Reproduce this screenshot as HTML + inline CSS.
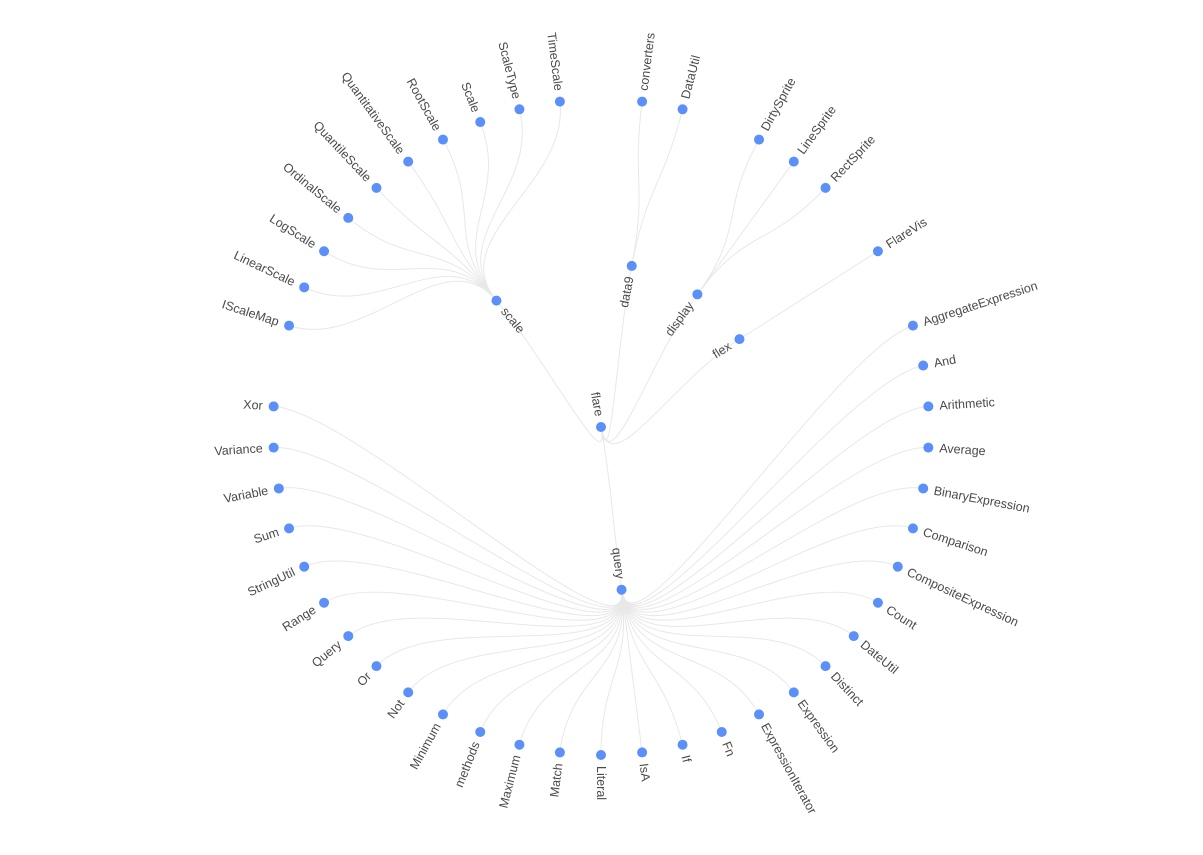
<!DOCTYPE html>
<html><head><meta charset="utf-8"><style>
html,body{margin:0;padding:0;background:#fff;}
svg{display:block;font-family:"Liberation Sans",sans-serif;}
</style></head><body>
<svg id="chart" width="1203" height="855" xmlns="http://www.w3.org/2000/svg">
<g id="edges"></g>
<g id="nodes"></g>
</svg>
<script>
const rootName = "flare";
const groupNames = ["query","scale","data9","display","flex"];
const queryLeaves = ["AggregateExpression","And","Arithmetic","Average","BinaryExpression","Comparison","CompositeExpression","Count","DateUtil","Distinct","Expression","ExpressionIterator","Fn","If","IsA","Literal","Match","Maximum","methods","Minimum","Not","Or","Query","Range","StringUtil","Sum","Variable","Variance","Xor"];
const scaleLeaves = ["IScaleMap","LinearScale","LogScale","OrdinalScale","QuantileScale","QuantitativeScale","RootScale","Scale","ScaleType","TimeScale"];
const data9Leaves = ["converters","DataUtil"];
const displayLeaves = ["DirtySprite","LineSprite","RectSprite"];
const flexLeaves = ["FlareVis"];

const groups=[queryLeaves,scaleLeaves,data9Leaves,displayLeaves,flexLeaves];
const cx=601, cy=427, R1=164, R2=328, startDeg=-18, rootDeg=80;
const NS="http://www.w3.org/2000/svg";
const eG=document.getElementById('edges'), nG=document.getElementById('nodes');
let total=0; groups.forEach(g=>{total+=(g.length-1)+2;});
const step=360/total;
function pt(deg,r){const a=deg*Math.PI/180;return [cx+r*Math.cos(a),cy+r*Math.sin(a)];}
function edge(d1,r1,d2,r2,name){
  const p1=pt(d1,r1),p2=pt(d1,(r1+r2)/2*(r1===0?0.7:1)),p3=pt(d2,(r1+r2)/2),p4=pt(d2,r2);
  const p=document.createElementNS(NS,'path');
  p.setAttribute('d',`M${p1}C${p2} ${p3} ${p4}`);
  p.setAttribute('fill','none');p.setAttribute('stroke','#e8e8e8');p.setAttribute('stroke-width','1');
  
  
  eG.appendChild(p);
}
function node(deg,r,label,leaf,name,rot){
  const [x,y]=pt(deg,r);
  const c=document.createElementNS(NS,'circle');
  c.setAttribute('cx',x);c.setAttribute('cy',y);c.setAttribute('r',5);c.setAttribute('fill','#5b8ff9');
  
  
  nG.appendChild(c);
  let a=rot!==undefined?rot:deg;
  let out=leaf;
  const norm=((a%360)+360)%360;
  if(norm>90&&norm<270){a-=180;out=!out;}
  const t=document.createElementNS(NS,'text');
  t.setAttribute('x',out?11:-11);t.setAttribute('y',0);
  t.setAttribute('text-anchor',out?'start':'end');
  t.setAttribute('dominant-baseline','central');
  t.setAttribute('font-size','12.5');t.setAttribute('fill','#4a4a4a');
  t.setAttribute('transform',`translate(${x},${y}) rotate(${a})`);
  t.textContent=label;
  
  
  nG.appendChild(t);
}
let cur=startDeg;
const gpos=[];
groups.forEach((g,gi)=>{
  const angs=g.map((_,i)=>cur+i*step);
  cur+= (g.length-1)*step+2*step;
  const pd=(angs[0]+angs[angs.length-1])/2;
  gpos.push([pd,angs]);
});
gpos.forEach(([pd,angs],gi)=>{
  edge(rootDeg,0,pd,R1,'edge-root-'+groupNames[gi]);
  angs.forEach((a,i)=>edge(pd,R1,a,R2,'edge-'+groupNames[gi]+'-'+groups[gi][i].toLowerCase()));
});
gpos.forEach(([pd,angs],gi)=>{
  node(pd,R1,groupNames[gi],false,groupNames[gi]);
  angs.forEach((a,i)=>node(a,R2,groups[gi][i],true,'leaf-'+groups[gi][i].toLowerCase()));
});
node(0,0,rootName,false,'root',rootDeg);
</script>
</body></html>
